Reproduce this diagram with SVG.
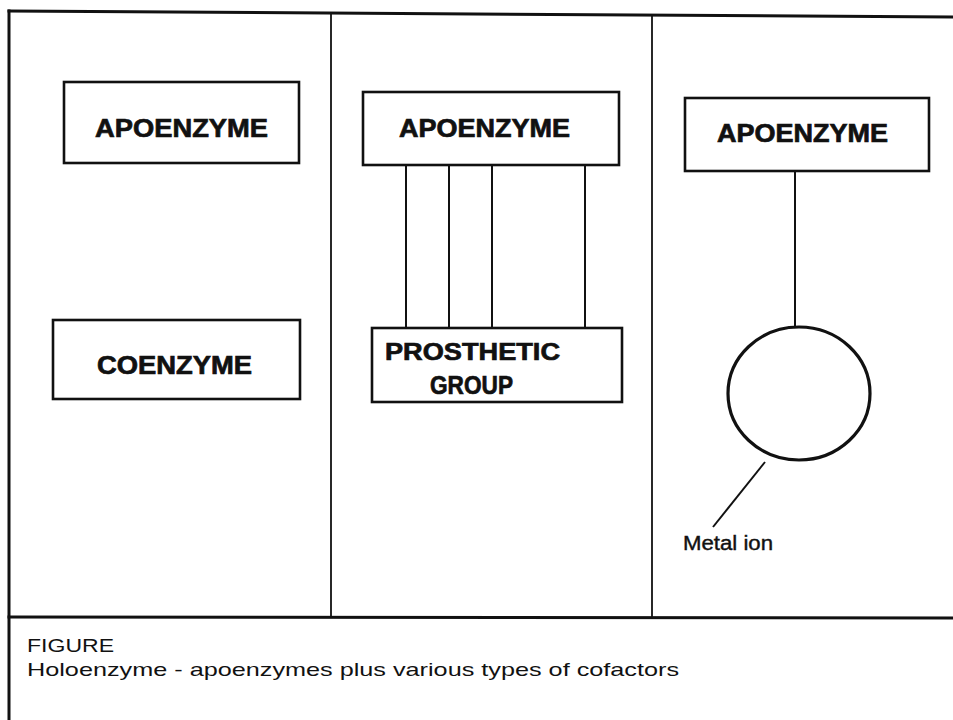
<svg xmlns="http://www.w3.org/2000/svg" width="953" height="720" viewBox="0 0 953 720">
<style>
.frame{fill:none;stroke:#111;stroke-width:3;stroke-linecap:square}
.div{fill:none;stroke:#111;stroke-width:1.8}
.box{fill:#fff;stroke:#111;stroke-width:2.6}
.conn{fill:none;stroke:#111;stroke-width:2}
.lbl{font-family:"Liberation Sans",Arial,sans-serif;font-weight:bold;fill:#111;stroke:#111;stroke-width:0.7}
.cap{font-family:"Liberation Sans",Arial,sans-serif;fill:#111}
</style>
<rect x="0" y="0" width="953" height="720" fill="#fff"/>
<g id="frame">
<path class="frame" d="M9,11 Q330,13 953,17"/>
<path class="frame" d="M9,11 L9,720"/>
<path class="frame" d="M9,617 L953,618"/>
<path class="div" d="M331,14 L331,617"/>
<path class="div" d="M652,15 L652,617"/>
</g>
<g id="connectors">
<path class="conn" d="M406,165 L406,328"/>
<path class="conn" d="M449,165 L449,328"/>
<path class="conn" d="M492,165 L492,328"/>
<path class="conn" d="M585,165 L585,328"/>
<path class="conn" d="M795,171 L795,327"/>
<path class="conn" d="M765,462 L713,527"/>
</g>
<g id="apoenzyme1">
<rect class="box" x="64" y="82" width="235" height="81"/>
<text class="lbl" x="95" y="137" font-size="26" textLength="173" lengthAdjust="spacingAndGlyphs">APOENZYME</text>
</g>
<g id="coenzyme">
<rect class="box" x="53" y="320" width="247" height="79"/>
<text class="lbl" x="97" y="374" font-size="25" textLength="155" lengthAdjust="spacingAndGlyphs">COENZYME</text>
</g>
<g id="apoenzyme2">
<rect class="box" x="363" y="92" width="256" height="73"/>
<text class="lbl" x="399" y="137" font-size="25" textLength="171" lengthAdjust="spacingAndGlyphs">APOENZYME</text>
</g>
<g id="prosthetic">
<rect class="box" x="372" y="328" width="250" height="74"/>
<text class="lbl" x="385" y="360" font-size="24" textLength="175" lengthAdjust="spacingAndGlyphs">PROSTHETIC</text>
<text class="lbl" x="430" y="394" font-size="26" textLength="83" lengthAdjust="spacingAndGlyphs">GROUP</text>
</g>
<g id="apoenzyme3">
<rect class="box" x="685" y="98" width="244" height="73"/>
<text class="lbl" x="717" y="142" font-size="25" textLength="171" lengthAdjust="spacingAndGlyphs">APOENZYME</text>
</g>
<g id="metal-ion">
<ellipse cx="799" cy="393.5" rx="71" ry="66.5" fill="none" stroke="#111" stroke-width="3.2"/>
<text class="cap" x="683" y="550" font-size="20" textLength="90" lengthAdjust="spacingAndGlyphs" stroke="#111" stroke-width="0.4">Metal ion</text>
</g>
<g id="caption">
<text class="cap" x="27" y="652" font-size="19" textLength="87" lengthAdjust="spacingAndGlyphs">FIGURE</text>
<text class="cap" x="27" y="676" font-size="19" textLength="652" lengthAdjust="spacingAndGlyphs">Holoenzyme - apoenzymes plus various types of cofactors</text>
</g>
</svg>
